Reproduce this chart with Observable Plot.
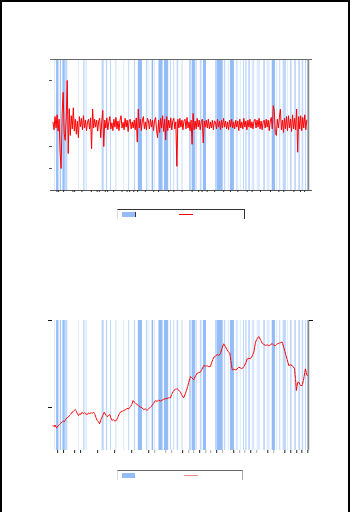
<!DOCTYPE html>
<html>
<head>
<meta charset="utf-8">
<script src="https://cdn.jsdelivr.net/npm/d3@7"></script>
<script src="https://cdn.jsdelivr.net/npm/@observablehq/plot@0.6"></script>
<style>
  html, body { margin: 0; padding: 0; background: #fff; width: 352px; height: 512px; overflow: hidden; }
  #page { position: absolute; left: 0; top: 0; width: 346px; height: 520px; border-left: 2px solid #000; border-top: 2px solid #000; border-right: 2px solid #000; }
  .panel { position: absolute; left: 0; }
  .legend { position: absolute; height: 10px; box-sizing: border-box; }
  .sw { position: absolute; }
</style>
</head>
<body>
<div id="page"></div>
<div class="panel" id="top" style="top:0px"></div>
<div class="panel" id="bottom" style="top:300px"></div>
<div class="legend" style="left:117px; top:209px; width:128px; border-top:1px solid #333; border-right:1px solid #333; border-left:1px solid #ddd;">
  <div class="sw" style="left:4px; top:2px; width:13px; height:5px; background:#94bcf7; border-right:1px solid #334;"></div>
  <div class="sw" style="left:61px; top:4px; width:14px; height:1px; background:#ff0000;"></div>
</div>
<div class="legend" style="left:117px; top:470px; width:126px; border-top:1px solid #666; border-right:1px solid #aaa; border-left:1px solid #ddd;">
  <div class="sw" style="left:4px; top:2px; width:13px; height:5px; background:#94bcf7;"></div>
  <div class="sw" style="left:66px; top:4px; width:14px; height:1px; background:#f08a8a;"></div>
</div>
<script>
// Shaded periods (years) and their shading level
const bandStart = [1989.49,1989.61,1989.83,1989.98,1990.14,1990.89,1991.20,1991.33,1992.28,1992.53,1992.77,1993.06,1993.55,1993.84,1994.18,1994.41,1994.88,1995.03,1995.22,1995.35,1995.62,1995.94,1996.29,1996.49,1996.69,1996.98,1997.41,1997.57,1997.79,1998.05,1998.23,1998.94,1999.05,1999.46,1999.70,1999.82,2000.19,2000.40,2000.58,2000.72,2000.89,2001.09,2001.19,2001.39,2001.77,2001.97,2002.27,2002.52,2002.71,2002.91,2003.16,2003.34,2003.59,2003.83,2004.03,2004.22,2004.36];
const bandEnd   = [1989.55,1989.75,1989.89,1990.12,1990.27,1990.95,1991.28,1991.43,1992.41,1992.61,1992.83,1993.16,1993.61,1993.90,1994.25,1994.65,1994.97,1995.08,1995.31,1995.41,1995.86,1996.19,1996.35,1996.54,1996.78,1997.03,1997.53,1997.76,1997.86,1998.15,1998.41,1999.05,1999.39,1999.54,1999.76,2000.05,2000.26,2000.46,2000.64,2000.80,2000.99,2001.17,2001.24,2001.58,2001.87,2002.13,2002.46,2002.58,2002.77,2003.10,2003.22,2003.44,2003.69,2003.93,2004.12,2004.28,2004.40];
const bandLevel = [1,3,3,3,2,1,2,1,2,2,2,1,1,2,2,3,2,1,3,1,3,3,2,2,2,2,2,3,2,2,3,2,3,2,1,3,2,1,2,2,2,1,2,1,2,1,3,1,2,2,1,2,2,2,2,2,3];

// Returns series (thousandths), sampled at regular dates
const returnStart = 1989.40;
const returnStep = 0.0596;
const returnValues = [
  5,-12,18,-8,22,-15,12,-63,-100,25,
  73,-20,-36,15,100,-66,36,-25,20,-10,
  38,-15,12,-22,8,-30,18,-5,14,-12,
  20,-8,10,-14,6,12,-10,15,-55,35,
  -8,12,-6,10,-15,8,14,-30,6,32,
  -50,10,-8,15,-12,6,18,-10,4,-14,
  12,-6,16,-10,8,-14,10,20,-8,5,
  -12,14,-6,10,-16,8,12,-10,6,-8,
  10,-12,15,-40,35,-8,12,-14,8,18,
  -10,6,-12,14,8,-10,12,-6,10,-14,
  8,16,-12,-30,10,-18,14,-8,20,-16,
  12,-35,18,-14,10,-8,15,-12,8,14,
  -10,6,-95,12,-8,14,-6,10,-12,8,
  12,-10,16,-8,6,-14,10,-45,25,-12,
  8,-10,14,-6,10,-12,6,12,-42,8,
  -6,10,-8,12,-10,6,-8,10,-12,8,
  6,-10,12,-6,8,-12,10,-8,14,-6,
  8,-10,6,-12,10,-6,12,-8,6,-10,
  10,-6,8,-14,12,-8,6,-10,14,-6,
  8,-12,10,-6,12,-8,6,-10,8,12,
  -8,10,-6,14,-10,8,-12,6,10,-8,
  12,-6,10,-14,8,16,-10,43,30,-18,
  -25,12,-8,16,35,-12,10,-18,14,-10,
  18,-14,20,-8,12,-16,22,-10,14,-12,
  35,-63,18,-10,20,-14,16,-8,22,-12,10
];

// Price series [year, level]
const priceSeries = [
  [1989.40,793],[1989.46,780],[1989.52,800],[1989.57,775],[1989.63,767],[1989.70,790],[1989.78,805],[1989.85,818],[1989.93,831],[1990.00,845],
  [1990.08,838],[1990.15,865],[1990.22,882],[1990.30,890],[1990.37,910],[1990.45,925],[1990.52,946],[1990.60,955],[1990.66,968],[1990.71,977],
  [1990.78,950],[1990.84,925],[1990.90,908],[1990.97,930],[1991.03,920],[1991.10,946],[1991.18,930],[1991.25,940],[1991.33,925],[1991.40,920],
  [1991.48,935],[1991.56,930],[1991.64,940],[1991.72,935],[1991.79,946],[1991.86,920],[1991.93,880],[1991.99,851],[1992.06,840],[1992.14,813],
  [1992.21,860],[1992.28,889],[1992.35,920],[1992.41,946],[1992.49,915],[1992.57,897],[1992.65,905],[1992.73,920],[1992.80,880],[1992.87,851],
  [1992.95,860],[1993.03,845],[1993.12,851],[1993.20,885],[1993.27,920],[1993.35,946],[1993.45,955],[1993.55,965],[1993.65,974],[1993.75,990],
  [1993.85,985],[1993.94,1011],[1994.02,1030],[1994.10,1080],[1994.18,1060],[1994.26,1045],[1994.34,1034],[1994.44,1020],[1994.53,1005],[1994.63,997],
  [1994.73,975],[1994.82,985],[1994.92,966],[1995.02,985],[1995.12,1005],[1995.22,1023],[1995.31,1050],[1995.41,1080],[1995.51,1070],[1995.60,1085],
  [1995.70,1072],[1995.80,1085],[1995.90,1095],[1996.00,1100],[1996.10,1105],[1996.19,1111],[1996.29,1111],[1996.39,1160],[1996.49,1195],[1996.59,1210],
  [1996.69,1215],[1996.78,1200],[1996.88,1176],[1996.97,1140],[1997.07,1111],[1997.17,1160],[1997.27,1215],[1997.37,1290],[1997.47,1356],[1997.56,1340],
  [1997.66,1318],[1997.76,1360],[1997.86,1394],[1997.95,1400],[1998.05,1406],[1998.15,1440],[1998.25,1483],[1998.35,1475],[1998.45,1480],[1998.54,1470],
  [1998.64,1471],[1998.74,1530],[1998.84,1578],[1998.94,1590],[1999.04,1609],[1999.13,1600],[1999.23,1617],[1999.32,1680],[1999.42,1732],[1999.52,1700],
  [1999.62,1663],[1999.70,1640],[1999.78,1624],[1999.85,1530],[1999.92,1433],[2000.01,1440],[2000.11,1433],[2000.20,1440],[2000.30,1463],[2000.40,1455],
  [2000.50,1445],[2000.60,1470],[2000.70,1502],[2000.80,1560],[2000.90,1565],[2000.99,1560],[2001.09,1590],[2001.19,1636],[2001.29,1751],[2001.38,1790],
  [2001.48,1816],[2001.58,1780],[2001.68,1739],[2001.78,1725],[2001.87,1713],[2001.97,1720],[2002.07,1710],[2002.17,1721],[2002.27,1735],[2002.36,1715],
  [2002.46,1713],[2002.56,1730],[2002.66,1739],[2002.76,1745],[2002.86,1751],[2002.95,1690],[2003.05,1617],[2003.15,1550],[2003.24,1483],[2003.34,1490],
  [2003.44,1483],[2003.51,1465],[2003.58,1445],[2003.64,1320],[2003.69,1195],[2003.76,1290],[2003.83,1291],[2003.93,1253],[2004.03,1253],[2004.12,1330],
  [2004.22,1445],[2004.27,1400],[2004.32,1368]
];

// Tick positions
const topXTicks = [1989.63,1989.73,1990.02,1990.57,1990.67,1991.10,1991.65,1991.99,1992.12,1992.47,1992.61,1992.96,1993.45,1993.75,1993.90,1994.14,1994.37,1994.82,1995.31,1995.60,1996.19,1996.49,1996.98,1997.57,1997.95,1998.15,1998.45,1998.89,1999.42,1999.82,2000.25,2000.80,2001.09,2001.58,2002.17,2002.66,2002.95,2003.54,2003.93,2004.17];
const bottomXTicksDark = [1989.67,1990.02,1990.67,1991.02,1992.02,1993.02,1994.02,1995.02,1997.01,1998.01,1999.01,2000.01,2001.01,2002.01,2003.01,2003.36,2003.71,2004.01,2004.36];
const bottomXTicksLight = [1995.37,1996.02,1996.37,1997.37,1997.66,1998.37,1998.66,1999.36,2000.36,2000.66,2001.36,2002.36];
const topYTicks = [-100,-50,100];
const bottomYTicksLeft = [1000,2000];
const bottomYTicksRight = [2000];

const xDomain = [1989.37, 2004.40];
const topYDomain = [-150, 147.7];
const bottomYDomain = [505.7, 2000];

const bands = bandStart.map((s, i) => ({s, e: bandEnd[i], level: bandLevel[i]}));
const returns = returnValues.map((v, i) => ({t: returnStart + i * returnStep, v}));
const prices = priceSeries.map(([t, v]) => ({t, v}));
const levelOpacity = [0, 0.3, 0.6, 1];
const blank = () => "";

const topChart = Plot.plot({
  width: 352, height: 200,
  marginLeft: 52, marginRight: 44, marginTop: 59, marginBottom: 10,
  style: {background: "transparent"},
  x: {domain: xDomain, axis: null},
  y: {domain: topYDomain, axis: null},
  marks: [
    Plot.rect(bands, {x1: "s", x2: "e", fill: "#94bcf7", fillOpacity: d => levelOpacity[d.level]}),
    Plot.line(returns, {x: "t", y: "v", stroke: "#ff0000", strokeWidth: 1}),
    Plot.ruleY([topYDomain[1]], {stroke: "#666", strokeWidth: 1.2, insetLeft: -2, insetRight: -4}),
    Plot.ruleY([topYDomain[0]], {stroke: "#555", strokeWidth: 1.2, insetLeft: -2, insetRight: -4}),
    Plot.ruleX([xDomain[1]], {stroke: "#888", strokeWidth: 1.5}),
    Plot.axisY(topYTicks, {anchor: "left", tickSize: 3, stroke: "#555", tickFormat: blank, label: null}),
    Plot.axisX(topXTicks, {anchor: "bottom", tickSize: 2, stroke: "#333", tickFormat: blank, label: null})
  ]
});
document.getElementById("top").appendChild(topChart);

const bottomChart = Plot.plot({
  width: 352, height: 160,
  marginLeft: 52, marginRight: 44, marginTop: 20, marginBottom: 10,
  style: {background: "transparent"},
  x: {domain: xDomain, axis: null},
  y: {domain: bottomYDomain, axis: null},
  marks: [
    Plot.rect(bands, {x1: "s", x2: "e", fill: "#94bcf7", fillOpacity: d => levelOpacity[d.level]}),
    Plot.line(prices, {x: "t", y: "v", stroke: "#ff0000", strokeWidth: 1, strokeDasharray: "3,1"}),
    Plot.ruleX([xDomain[1]], {stroke: "#888", strokeWidth: 1.5}),
    Plot.axisY(bottomYTicksLeft, {anchor: "left", tickSize: 4, stroke: "#111", tickFormat: blank, label: null}),
    Plot.axisY(bottomYTicksRight, {anchor: "right", tickSize: 4, stroke: "#111", tickFormat: blank, label: null}),
    Plot.axisX(bottomXTicksDark, {anchor: "bottom", tickSize: 3, stroke: "#222", tickFormat: blank, label: null}),
    Plot.axisX(bottomXTicksLight, {anchor: "bottom", tickSize: 3, stroke: "#aaa", tickFormat: blank, label: null})
  ]
});
document.getElementById("bottom").appendChild(bottomChart);
</script>
</body>
</html>
